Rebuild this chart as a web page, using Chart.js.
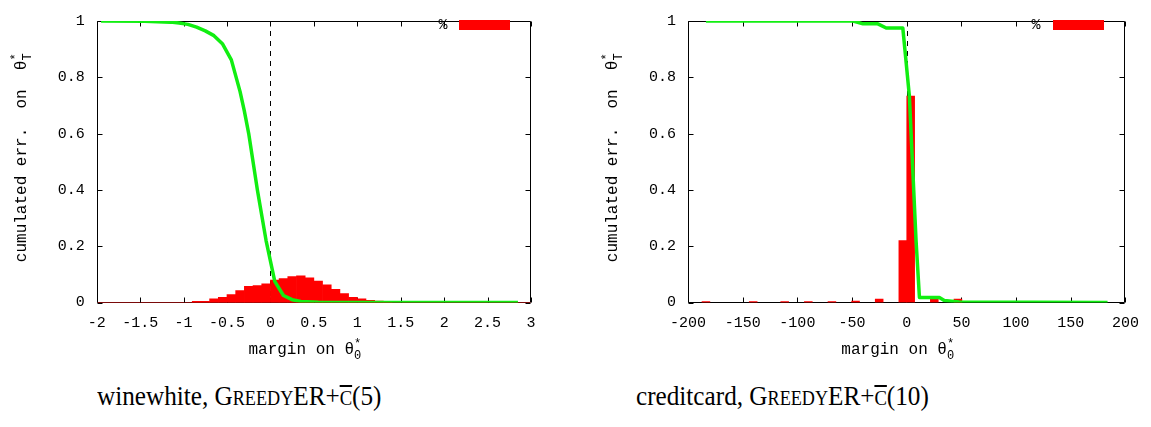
<!DOCTYPE html>
<html>
<head>
<meta charset="utf-8">
<script src="https://cdn.jsdelivr.net/npm/chart.js@4.4.0/dist/chart.umd.min.js"></script>
<style>
  html, body { margin: 0; padding: 0; background: #fff; }
  body { width: 1151px; height: 427px; position: relative; overflow: hidden; }
  .panel { position: absolute; top: 0; }
  .cap { position: absolute; top: 382px; font-family: "Liberation Serif", "Times New Roman", serif; font-size: 28px; line-height: 28px; color: #000; white-space: nowrap; transform: scaleX(0.9); transform-origin: 0 0; }
  .sc { font-size: 0.72em; }
  .ov { font-size: 0.74em; text-decoration: overline; text-decoration-thickness: 2px; }
</style>
</head>
<body>
<div class="panel" style="left:0;width:575px;height:370px"><canvas id="c1" width="575" height="370"></canvas></div>
<div class="panel" style="left:575px;width:576px;height:370px"><canvas id="c2" width="576" height="370"></canvas></div>
<div class="cap" style="left:97px">winewhite, G<span class="sc">REEDY</span>ER+<span class="ov">C</span>(5)</div>
<div class="cap" style="left:636px">creditcard, G<span class="sc">REEDY</span>ER+<span class="ov">C</span>(10)</div>
<script>
// ---------- data: winewhite ----------
const wineBinCenters = [-0.85,-0.75,-0.65,-0.55,-0.45,-0.35,-0.25,-0.15,-0.05,0.05,0.15,0.25,0.35,0.45,0.55,0.65,0.75,0.85,0.95,1.05,1.15,1.25,1.35];
const wineBinShare   = [0.004,0.004,0.013,0.018,0.028,0.042,0.057,0.060,0.066,0.080,0.085,0.092,0.095,0.088,0.076,0.063,0.047,0.032,0.018,0.013,0.008,0.005,0.002];
const wineCurveX = [-1.95,-1.45,-1.15,-1.05,-0.95,-0.85,-0.75,-0.65,-0.55,-0.45,-0.35,-0.30,-0.25,-0.15,-0.05,0.05,0.15,0.25,0.35,0.55,2.85];
const wineCurveY = [1.0,0.999,0.996,0.993,0.988,0.978,0.965,0.948,0.918,0.862,0.75,0.68,0.60,0.40,0.22,0.075,0.025,0.010,0.004,0.001,0.0];
const wineXTicks = {min:-2, max:3, step:0.5};

// ---------- data: creditcard ----------
const ccBinCenters = [-183.6,-140.4,-111.6,-90.0,-68.4,-46.8,-25.2,-3.6,3.6,25.2,46.8];
const ccBinShare   = [0.003,0.003,0.003,0.003,0.003,0.005,0.012,0.22,0.733,0.022,0.012];
const ccCurveX = [-183.6,-49,-40,-26.4,-18.8,-3.6,2.4,8.5,11.6,29.8,34.3,48,183.6];
const ccCurveY = [1.0,1.0,0.99,0.99,0.975,0.975,0.733,0.22,0.018,0.018,0.007,0.002,0.0];
const ccXTicks = {min:-200, max:200, step:50};

const yTicks = {min:0, max:1, step:0.2};
const legendLabel = '%';
const xTitle = {main:'margin on θ', sup:'*', sub:'0', size:16};
const yTitle = {main:'cumulated err.  on  θ', sup:'*', sub:'T', size:16};

const RED = '#ff0000';
const GREEN = '#11ee11';
const MONO = '"Liberation Mono", "Courier New", monospace';

function pairs(xs, ys){ return xs.map((x,i)=>({x:x, y:ys[i]})); }
const fmt = v => String(Number(Number(v).toFixed(2)));

const framePlugin = {
  id: 'frame',
  beforeDatasetsDraw(chart, args, o) {
    const {ctx, chartArea:a, scales:{x, y}} = chart;
    ctx.save();
    const zx = Math.round(x.getPixelForValue(0)) + 0.5;
    ctx.strokeStyle = '#000'; ctx.lineWidth = 1; ctx.setLineDash([5,5]);
    ctx.beginPath(); ctx.moveTo(zx, a.top); ctx.lineTo(zx, a.bottom); ctx.stroke();
    ctx.setLineDash([]);
    const L = Math.round(a.left)+0.5, R = Math.round(a.right)-0.5, T = Math.round(a.top)+0.5, B = Math.round(a.bottom)-0.5;
    ctx.strokeStyle = '#000'; ctx.lineWidth = 1;
    ctx.beginPath(); ctx.moveTo(L,B); ctx.lineTo(L,T); ctx.lineTo(R,T); ctx.lineTo(R,B); ctx.stroke();
    ctx.strokeStyle = o.baseColor || '#000';
    ctx.beginPath(); ctx.moveTo(L,B); ctx.lineTo(R,B); ctx.stroke();
    ctx.strokeStyle = '#000';
    const tl = 5;
    ctx.beginPath();
    x.ticks.forEach(t => {
      const px = Math.round(x.getPixelForValue(t.value)) + 0.5;
      ctx.moveTo(px, B); ctx.lineTo(px, B - tl);
      ctx.moveTo(px, T); ctx.lineTo(px, T + tl);
    });
    y.ticks.forEach(t => {
      const py = Math.round(y.getPixelForValue(t.value)) + 0.5;
      ctx.moveTo(L, py); ctx.lineTo(L + tl, py);
      ctx.moveTo(R, py); ctx.lineTo(R - tl, py);
    });
    ctx.stroke();
    ctx.restore();
  },
  afterDraw(chart, args, o) {
    const {ctx, chartArea:a} = chart;
    ctx.save();
    ctx.fillStyle = '#000';
    const lab = chart.data.datasets[0].label;
    ctx.font = '15px ' + MONO;
    ctx.textAlign = 'center'; ctx.textBaseline = 'middle';
    ctx.fillText(lab, o.legend.tx, o.legend.ty);
    ctx.fillStyle = chart.data.datasets[0].backgroundColor;
    ctx.fillRect(o.legend.bx, o.legend.by, o.legend.bw, o.legend.bh);
    ctx.fillStyle = '#000';
    const drawTitle = (t, cx, baseY) => {
      const ss = Math.round(t.size * 0.75);
      ctx.font = t.size + 'px ' + MONO;
      const mw = ctx.measureText(t.main).width;
      ctx.font = ss + 'px ' + MONO;
      const sw = Math.max(ctx.measureText(t.sup).width, ctx.measureText(t.sub).width);
      const x0 = cx - (mw + sw) / 2;
      ctx.textAlign = 'left'; ctx.textBaseline = 'alphabetic';
      ctx.font = t.size + 'px ' + MONO; ctx.fillText(t.main, x0, baseY);
      ctx.font = ss + 'px ' + MONO;
      ctx.fillText(t.sup, x0 + mw, baseY - 7);
      ctx.fillText(t.sub, x0 + mw, baseY + 5);
    };
    drawTitle(xTitle, (a.left + a.right) / 2 - 9, o.xTitleY);
    ctx.translate(o.yTitleX, (a.top + a.bottom) / 2 - 4);
    ctx.rotate(-Math.PI / 2);
    drawTitle(yTitle, 0, 0);
    ctx.restore();
  }
};

function makeChart(id, bins, shares, cx, cy, xt, padRight, yAxisW, legend, baseColor, yTitleX) {
  const tickFont = {family: MONO, size: 15};
  return new Chart(document.getElementById(id), {
    type: 'bar',
    data: {
      datasets: [
        {type:'bar', label: legendLabel, data: pairs(bins, shares), backgroundColor: RED, borderWidth: 0,
         barPercentage: 1, categoryPercentage: 1, order: 1},
        {type:'line', label:'cumulated', data: pairs(cx, cy), borderColor: GREEN, borderWidth: 3.5,
         pointRadius: 0, tension: 0, fill: false, order: 0, borderJoinStyle:'round'}
      ]
    },
    options: {
      responsive: false, animation: false, devicePixelRatio: 1,
      layout: {padding: {left: 0, right: padRight, top: 11, bottom: 0}},
      plugins: {legend: {display: false}, tooltip: {enabled: false},
        frame: {legend: legend, baseColor: baseColor, xTitleY: 354, yTitleX: yTitleX}},
      scales: {
        x: {type: 'linear', min: xt.min, max: xt.max, offset: false,
            ticks: {stepSize: xt.step, font: tickFont, color: '#000', padding: 12, maxRotation: 0, autoSkip: false, callback: fmt},
            grid: {display: false, drawTicks: false}, border: {display: false},
            afterFit: s => { s.height = 67.5; }},
        y: {type: 'linear', min: yTicks.min, max: yTicks.max,
            ticks: {stepSize: yTicks.step, font: tickFont, color: '#000', padding: 12, callback: fmt},
            grid: {display: false, drawTicks: false}, border: {display: false},
            afterFit: s => { s.width = yAxisW; }}
      }
    },
    plugins: [framePlugin]
  });
}

makeChart('c1', wineBinCenters, wineBinShare, wineCurveX, wineCurveY, wineXTicks, 44, 96.7,
  {tx: 443, ty: 25, bx: 459, by: 20, bw: 51, bh: 10}, '#7a0a0a', 26);
makeChart('c2', ccBinCenters, ccBinShare, ccCurveX, ccCurveY, ccXTicks, 24, 113,
  {tx: 461, ty: 25, bx: 478, by: 20, bw: 51, bh: 10}, '#000', 42);
</script>
</body>
</html>
